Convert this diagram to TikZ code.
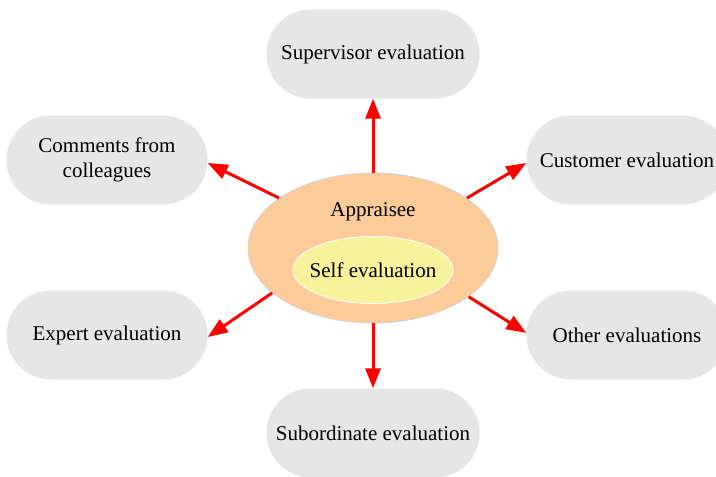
\documentclass[tikz,border=0pt]{standalone}
\usepackage{fontspec}
\setmainfont{Liberation Serif}
\usetikzlibrary{shapes.geometric,arrows.meta}
\definecolor{boxgray}{HTML}{E6E6E6}
\definecolor{peach}{HTML}{FCCB9A}
\definecolor{paleyellow}{HTML}{F7F29C}
\definecolor{rimgray}{HTML}{D2D2D2}
\begin{document}
\begin{tikzpicture}[x=1pt,y=-1pt,
  txt/.style={font=\fontsize{21}{25}\selectfont},
  evalbox/.style={txt,fill=boxgray,draw=none,rectangle,rounded corners=44pt,
    minimum width=213pt,minimum height=89pt,align=center,inner sep=0pt},
  sidebox/.style={evalbox,minimum width=201pt},
  link/.style={draw=red,line width=3pt,-{Triangle[length=20pt,width=15pt]}}
]
\useasboundingbox (0,0) rectangle (716,477);

% central ellipses
\node[ellipse,fill=peach,draw=rimgray,line width=0.8pt,minimum width=250pt,
  minimum height=150pt,inner sep=0pt] (app) at (373,248) {};
\node[txt] (applabel) at (373,212) {Appraisee};
\node[ellipse,fill=paleyellow,draw=white,line width=0.8pt,minimum width=160pt,
  minimum height=67pt,inner sep=0pt] (self) at (373,270) {};
\node[txt] (selflabel) at (self.center) {Self evaluation};

% surrounding evaluation sources
\node[evalbox] (sup) at (373,54) {Supervisor evaluation};
\node[evalbox] (sub) at (373,433) {Subordinate evaluation};
\node[sidebox] (com) at (107,160) {Comments from\\colleagues};
\node[sidebox] (exp) at (107,335) {Expert evaluation};
\node[sidebox] (cus) at (627,160) {Customer evaluation};
\node[sidebox] (oth) at (627,335) {Other evaluations};

% arrows from the appraisee outward
\draw[link] (app.north) -- (sup.south);
\draw[link] (app.south) -- (sub.north);
\draw[link] (app.152) -- ([yshift=-3pt]com.east);
\draw[link] (app.28) -- ([yshift=-3pt]cus.west);
\draw[link] (app.204) -- ([yshift=-2pt]exp.east);
\draw[link] (app.333) -- ([yshift=2pt]oth.west);
\end{tikzpicture}
\end{document}
